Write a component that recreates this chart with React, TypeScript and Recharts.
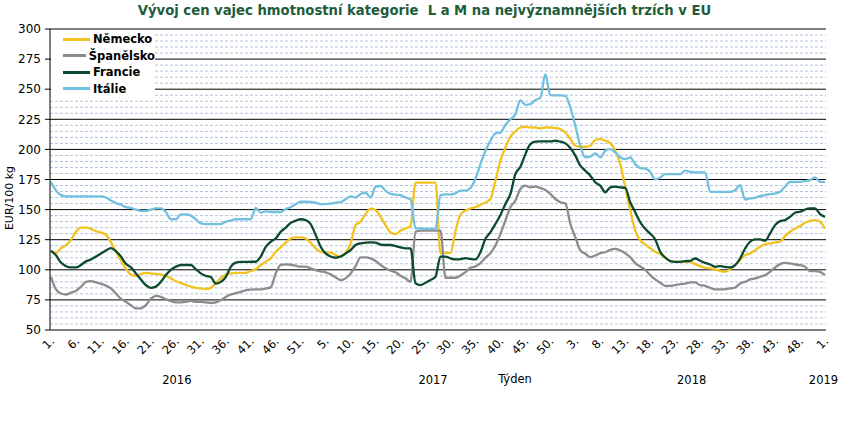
import { CartesianGrid, Label, Legend, Line, LineChart, XAxis, YAxis } from "recharts";

const years = ["2016", "2017", "2018", "2019"];
const weeksPerYear = [51, 52, 52, 1];

const seriesNames = ["Německo", "Španělsko", "Francie", "Itálie"];
const seriesColors = ["#f2c31f", "#8c8c8c", "#0c4a2f", "#72c0e0"];

// EUR/100 kg, weekly, 2016 wk1 .. 2019 wk1
const nemecko = [
  115, 114, 118, 120.5, 124.7, 131.6, 135, 135, 134, 132,
  131, 129, 123, 115, 108, 101, 96, 95, 96.5, 97.5,
  97, 96.7, 96, 95, 93, 90.5, 89, 87.5, 86, 85,
  84.5, 84, 85, 89, 93, 96, 97, 97.5, 97.5, 97.5,
  99, 100.4, 104, 106.7, 109.5, 115, 118.6, 122.5, 126, 127,
  127, 126, 122.5, 117.8, 115, 114.2, 114.2, 112.3, 111, 114.2,
  122, 137.2, 140, 146.3, 150.8, 149.7, 144, 137.2, 131, 129.7,
  132.5, 134.4, 136.5, 172.4, 172.4, 172.4, 172.4, 172.4, 113.6, 114,
  114, 132, 145.9, 149.2, 151, 152, 154, 156, 158.8, 174,
  190.6, 201.7, 210.5, 215, 218.2, 218.8, 218.2, 218.2, 217.4, 218.2,
  218.2, 217.7, 216.9, 214, 208.6, 203, 202.2, 202.2, 203, 208,
  208.6, 207.2, 205.2, 198.9, 187.8, 168.5, 149.2, 132.6, 124.3, 121,
  118, 115, 113, 110, 107.5, 106.6, 106.6, 106.6, 106.6, 104.7,
  103, 101.7, 101.1, 100.3, 99.2, 98.3, 100.6, 103.9, 108, 112.2,
  113.6, 116.3, 119.1, 121.3, 121.9, 122.7, 123.3, 128, 131.6, 134.3,
  136.3, 139.1, 140.7, 141.3, 139.9, 134.3,
];

const spanelsko = [
  94, 83.7, 80.3, 79.5, 81, 82.5, 86, 90, 90.6, 89.5,
  88.4, 87, 84.5, 80.3, 76, 73.4, 70.6, 67.9, 68, 70.6,
  76, 78.4, 77.5, 75.6, 74, 73, 73, 73.4, 74.2, 73.4,
  73.4, 73, 72.6, 73, 74.8, 77.5, 79.5, 80.6, 81.7, 83,
  83.5, 83.7, 83.7, 84.6, 85.4, 97, 104, 104.5, 104.2, 103.4,
  102.6, 102.6, 101.2, 99.8, 98.7, 97.9, 96.2, 93.7, 91.5, 92.9,
  97, 103.1, 110.3, 110.3, 109.5, 107.3, 104, 101.2, 99.2, 97.9,
  95, 92.9, 90, 131.6, 132.5, 132.5, 132.5, 132.5, 132.5, 93.4,
  93.4, 93.4, 95.3, 98, 101.7, 102.8, 105.5, 110, 113.8, 120.2,
  129.8, 140.9, 151.9, 157.5, 167.1, 169.9, 168.5, 169.1, 168, 166.3,
  163, 158.8, 156.1, 155.2, 138.1, 127.1, 116, 113.3, 110.5, 111.9,
  113.8, 114.6, 116.6, 117.4, 116, 113.8, 110.5, 105.5, 102.8, 100,
  95.6, 92, 89.2, 86.7, 86.7, 87.3, 88.1, 88.6, 89.5, 89.5,
  87.3, 86.7, 85, 83.7, 83.7, 83.9, 84.5, 85.3, 88.6, 90,
  92, 92.8, 94.2, 95.6, 98.3, 101.9, 104.7, 105.8, 105.3, 104.4,
  103.9, 102.5, 98.9, 98.9, 98.3, 95.6,
];

const francie = [
  116, 112, 106, 103, 102, 102, 104, 107, 108.6, 111,
  113.6, 116, 118, 115.5, 111, 105, 102, 97, 92, 87.3,
  85, 86, 90, 95.6, 100, 102.5, 104, 104, 104, 100.6,
  97, 95, 94, 88.6, 90, 94, 102.5, 106, 106.6, 106.6,
  106.7, 106.7, 111, 119, 123.3, 126, 131.6, 135, 139, 140.8,
  142, 141.3, 138, 129, 119.2, 113.6, 111, 110, 111, 113.6,
  116.4, 120.6, 122, 122.5, 122.8, 122.5, 121, 120.6, 120.6, 119.7,
  118.6, 117.8, 117.8, 88.7, 87.3, 89.3, 91.5, 94.3, 111, 111,
  109.5, 108.6, 108.8, 109.7, 109, 108.6, 114.6, 125.7, 131.2, 138.1,
  145.6, 154.7, 163, 179.6, 185.6, 196.1, 204.4, 206.4, 206.6, 206.6,
  206.6, 207.2, 206.4, 205, 201.1, 194.8, 186.5, 182.3, 178.2, 172.7,
  169.9, 164.4, 168.5, 169.1, 168.5, 168, 156.1, 147.8, 139.5, 134,
  130, 125.2, 115, 110.2, 107.2, 106.6, 106.6, 107.2, 107.5, 109.4,
  107.5, 105.8, 104.4, 102.5, 103, 102.5, 101.9, 103.9, 109.4, 117.7,
  123.3, 125.2, 125.2, 124.1, 130.2, 137.1, 140.4, 141.3, 144, 147.4,
  148.2, 150.1, 151, 151, 146.3, 144,
];

const italie = [
  173, 166, 162, 161, 161, 161, 161, 161, 161, 161,
  161, 160, 157.5, 155.5, 154, 152, 151.5, 150, 149, 149,
  150, 151, 151, 148, 142, 142, 146, 146, 145, 142,
  138.5, 138, 138, 138, 138, 140, 141, 142, 142, 142,
  142, 151.5, 147.5, 148.5, 148, 148, 148, 150.5, 152, 154.5,
  156.5, 156.5, 156.3, 155.7, 154.6, 154.6, 155, 155.7, 156.3, 158.5,
  161, 160, 163, 164, 160, 169, 169.6, 165.7, 163, 162.4,
  162, 160, 158.5, 134.4, 134.4, 134.2, 134, 134, 162, 162.7,
  162.5, 163.5, 165.7, 165.7, 168, 175.4, 187.8, 198.9, 207.2, 213.3,
  214, 220.4, 225, 229.3, 240.9, 237, 237.6, 240.9, 243, 262.4,
  245, 244.8, 244.8, 244.5, 234.8, 219.6, 203, 193.4, 194, 196.7,
  193.4, 198.9, 200.3, 197.5, 193.4, 192, 193.4, 187.8, 184.5, 184,
  181.4, 175, 176.7, 179.5, 179.5, 179.5, 179.5, 182.3, 181.4, 180.9,
  180.9, 180.9, 164.8, 164.8, 164.8, 164.8, 164.8, 166.2, 170.4, 158.4,
  159.3, 159.8, 161.2, 162, 162.9, 163.4, 164.8, 169, 173.1, 173.1,
  173.1, 173.7, 174.5, 176.7, 173.1, 173.1,
];

const yTicks = [50, 75, 100, 125, 150, 175, 200, 225, 250, 275, 300];

const seriesValues = [nemecko, spanelsko, francie, italie];

type Row = { key: string; week: number; idx: number; [k: string]: number | string };

const rows: Row[] = [];
const yearTicks: { pos: number; label: string }[] = [];
years.forEach((yr, k) => {
  const start = rows.length;
  for (let w = 1; w <= weeksPerYear[k]; w++) {
    const idx = rows.length;
    const row: Row = { key: `${yr}-${w}`, week: w, idx };
    seriesNames.forEach((name, s) => {
      row[name] = seriesValues[s][idx];
    });
    rows.push(row);
  }
  yearTicks.push({ pos: (start + rows.length - 1) / 2, label: yr });
});

const minorLines: number[] = [];
for (let v = 55; v < 300; v += 5) if (v % 25 !== 0) minorLines.push(v);

const FONT = "Verdana, 'DejaVu Sans', sans-serif";

const WeekTick = (props: any) => {
  const { x, y, payload } = props;
  const week = String(payload.value).split("-")[1];
  return (
    <g transform={`translate(${x + 4},${y + 12})`}>
      <text textAnchor="end" transform="rotate(-45)" fontSize={11.5} fontFamily={FONT} fill="#000">
        {week}.
      </text>
    </g>
  );
};

const YearTick = (props: any) => {
  const { x, y, payload } = props;
  const t = yearTicks.find((d) => d.pos === payload.value);
  return (
    <text x={x} y={y + 14} textAnchor="middle" fontSize={11.5} fontFamily={FONT} fill="#000">
      {t ? t.label : ""}
    </text>
  );
};

// legend keeps the series order, not alphabetical
const LegendBox = (props: any) => {
  const payload = [...(props.payload || [])].sort(
    (a: any, b: any) => seriesNames.indexOf(a.value) - seriesNames.indexOf(b.value)
  );
  return (
    <div style={{ background: "#fff", width: 104, paddingTop: 1, paddingBottom: 3 }}>
      {payload.map((p: any) => (
        <div key={p.value} style={{ display: "flex", alignItems: "center", height: 16.5 }}>
          <div style={{ width: 27, height: 3, background: p.color, marginLeft: 12, marginRight: 3 }} />
          <span style={{ fontFamily: FONT, fontWeight: "bold", fontSize: 11.5, color: "#000" }}>{p.value}</span>
        </div>
      ))}
    </div>
  );
};

export default function App() {
  return (
    <div style={{ position: "absolute", left: 0, top: 0, width: 849, height: 424, background: "#fff" }}>
      <div
        style={{
          position: "absolute",
          top: 3,
          left: 0,
          width: 849,
          textAlign: "center",
          fontFamily: FONT,
          fontWeight: "bold",
          fontSize: 13.2,
          color: "#1e5c3b",
          whiteSpace: "pre",
        }}
      >
        {"Vývoj cen vajec hmotnostní kategorie  L a M na nejvýznamnějších trzích v EU"}
      </div>
      <LineChart width={849} height={424} data={rows} margin={{ top: 29, right: 23, left: 0, bottom: 24 }}>
        <CartesianGrid vertical={false} horizontalValues={minorLines} stroke="#b4c1db" strokeDasharray="3 2" />
        <CartesianGrid vertical={false} horizontalValues={yTicks} stroke="#000" />
        <XAxis
          dataKey="key"
          height={40}
          interval={4}
          padding={{ left: 1, right: 1 }}
          tickSize={0}
          tickMargin={0}
          axisLine={false}
          tickLine={false}
          tick={<WeekTick />}
        />
        <XAxis
          xAxisId="yr"
          type="number"
          dataKey="idx"
          domain={[-0.5, 155.5]}
          ticks={yearTicks.map((d) => d.pos)}
          interval={0}
          height={30}
          tickSize={0}
          tickMargin={0}
          axisLine={false}
          tickLine={false}
          tick={<YearTick />}
        >
          <Label value="Týden" position="center" dx={77} dy={-6} fontSize={11.5} fontFamily={FONT} fill="#000" />
        </XAxis>
        <YAxis
          width={50}
          domain={[50, 300]}
          ticks={yTicks}
          interval={0}
          tickSize={5}
          tickMargin={4}
          axisLine={{ stroke: "#000" }}
          tickLine={{ stroke: "#000" }}
          tick={{ fontSize: 12, fontFamily: FONT, fill: "#000" }}
        >
          <Label
            content={() => (
              <text
                x={13}
                y={198}
                transform="rotate(-90 13 198)"
                textAnchor="middle"
                fontSize={11}
                fontFamily={FONT}
                fill="#000"
              >
                EUR/100 kg
              </text>
            )}
          />
        </YAxis>
        <Legend
          layout="horizontal"
          verticalAlign="middle"
          align="center"
          wrapperStyle={{ left: 51, top: 30, width: 104, zIndex: 10 }}
          content={<LegendBox />}
        />
        {seriesNames.map((name, s) => (
          <Line
            key={name}
            dataKey={name}
            name={name}
            type="monotone"
            stroke={seriesColors[s]}
            strokeWidth={2.3}
            dot={false}
            isAnimationActive={false}
          />
        ))}
      </LineChart>
    </div>
  );
}
